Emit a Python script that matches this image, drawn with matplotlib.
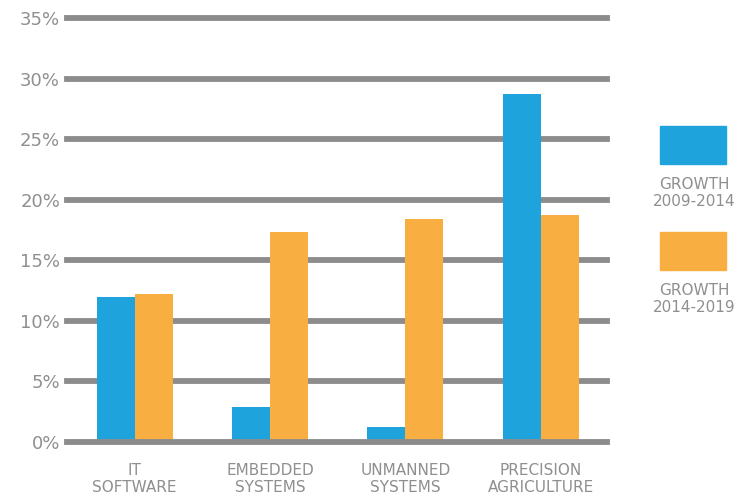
import matplotlib.pyplot as plt
import numpy as np
from matplotlib.patches import Rectangle

categories = ['IT\nSOFTWARE', 'EMBEDDED\nSYSTEMS', 'UNMANNED\nSYSTEMS', 'PRECISION\nAGRICULTURE']
growth_2009_2014 = [12.0, 2.9, 1.25, 28.7]
growth_2014_2019 = [12.2, 17.3, 18.4, 18.7]
series_labels = ['GROWTH\n2009-2014', 'GROWTH\n2014-2019']
yticks = [0, 5, 10, 15, 20, 25, 30, 35]

blue = '#1ea3dc'
orange = '#f9ae41'
grey = '#8c8c8c'
text_grey = '#8f8f8f'

plt.rcParams['font.family'] = ['DejaVu Sans']

fig = plt.figure(figsize=(7.51, 4.99), dpi=100)
ax = fig.add_axes([67 / 751, 1 - 442 / 499, 540 / 751, 424 / 499])

x = np.arange(len(categories))
w = 0.28
ax.bar(x - w / 2, growth_2009_2014, w, color=blue, zorder=3)
ax.bar(x + w / 2, growth_2014_2019, w, color=orange, zorder=3)

ax.set_ylim(0, 35)
ax.set_xlim(-0.50, 3.49)
for v in yticks:
    ax.axhline(v, color=grey, lw=4.2, zorder=2 if v > 0 else 4, clip_on=False)

ax.set_yticks(yticks)
ax.set_yticklabels([f'{v}%' for v in yticks], color=text_grey, fontsize=13)
ax.set_xticks(x)
ax.set_xticklabels(categories, color=text_grey, fontsize=11, linespacing=1.15)
ax.tick_params(axis='both', length=0)
ax.tick_params(axis='y', pad=5)
ax.tick_params(axis='x', pad=15)
for s in ax.spines.values():
    s.set_visible(False)

# legend on the right
for i, (col, lab) in enumerate(zip([blue, orange], series_labels)):
    top = 126 + i * 106
    fig.patches.append(Rectangle((660 / 751, 1 - (top + 38) / 499), 66 / 751, 38 / 499,
                                 transform=fig.transFigure, color=col))
    fig.text(694 / 751, 1 - (top + 51) / 499, lab, ha='center', va='top',
             color=text_grey, fontsize=11, linespacing=1.15)

fig.savefig('out.png', dpi=100)
